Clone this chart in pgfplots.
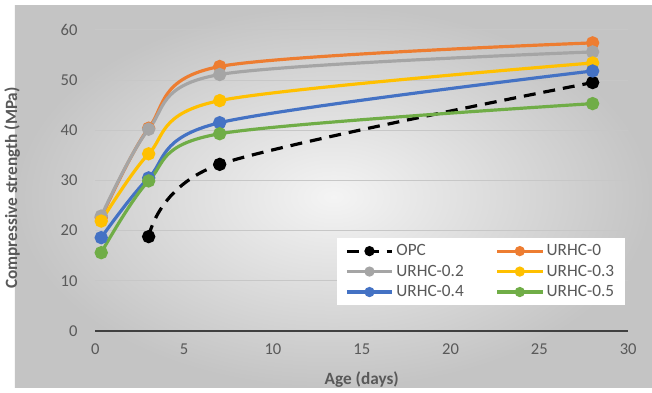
\documentclass[border=0pt]{standalone}
\usepackage{fontspec}
\setmainfont{Carlito}
\usepackage{pgfplots}
\pgfplotsset{compat=1.18}
\definecolor{cOPC}{HTML}{000000}
\definecolor{cA}{HTML}{ED7D31}
\definecolor{cB}{HTML}{A5A5A5}
\definecolor{cC}{HTML}{FFC000}
\definecolor{cD}{HTML}{4472C4}
\definecolor{cE}{HTML}{70AD47}
\definecolor{txt}{HTML}{595959}
\definecolor{bgin}{HTML}{F4F4F4}
\definecolor{bgout}{HTML}{C4C4C4}
\begin{document}
\begin{tikzpicture}
\fill[white] (-69pt,-42.75pt) rectangle (420pt,249.75pt);
\shade[inner color=bgin, outer color=bgout] (-60.75pt,-42.75pt) rectangle (420pt,245.25pt);
\begin{axis}[
  scale only axis,
  width=402pt, height=227.25pt,
  xmin=0, xmax=30, ymin=0, ymax=60,
  xtick={0,5,...,30}, ytick={0,10,...,60},
  axis line style={draw=none},
  axis x line*=bottom,
  major tick length=0pt,
  ymajorgrids,
  grid style={color=black!22, line width=0.6pt},
  tick label style={font=\fontsize{12.5}{14}\selectfont, text=txt},
  xticklabel style={yshift=-6pt},
  yticklabel style={xshift=-10pt},
  /pgf/number format/assume math mode=true,
  xlabel={Age (days)},
  ylabel={Compressive strength (MPa)},
  label style={font=\bfseries\fontsize{13}{15}\selectfont, text=txt},
  xlabel style={at={(axis description cs:0.5,-0.162)}, anchor=center},
  ylabel style={at={(axis description cs:-0.156,0.475)}, anchor=center},
  legend columns=2,
  legend cell align=left,
  legend style={at={(axis description cs:0.994,0.31)}, anchor=north east,
    fill=white, draw=none, font=\fontsize{13}{15}\selectfont, text=txt,
    inner xsep=6pt, inner ysep=3pt,
    /tikz/every even column/.append style={column sep=22pt},
    row sep=1.5pt},
  legend image code/.code={%
    \draw[mark repeat=2,mark phase=2,mark size=2.6pt] plot coordinates {(0cm,0cm) (0.6cm,0cm) (1.2cm,0cm)};},
  every axis plot/.append style={line width=2.4pt, mark=*, mark size=3.8pt, smooth, tension=0.5},
  clip=false,
]
\draw[color=black!75, line width=1.5pt] (axis cs:0,0) -- (axis cs:30,0);
\addplot[cOPC, dash pattern=on 9pt off 6pt, mark options={solid, fill=cOPC}] coordinates {(3,18.8) (7,33.2) (28,49.5)};
\addlegendentry{OPC}
\addplot[cA, mark options={fill=cA}] coordinates {(0.33,22.6) (3,40.4) (7,52.7) (28,57.4)};
\addlegendentry{URHC-0}
\addplot[cB, mark options={fill=cB}] coordinates {(0.33,22.9) (3,40.2) (7,51.1) (28,55.6)};
\addlegendentry{URHC-0.2}
\addplot[cC, mark options={fill=cC}] coordinates {(0.33,21.9) (3,35.3) (7,45.9) (28,53.4)};
\addlegendentry{URHC-0.3}
\addplot[cD, mark options={fill=cD}] coordinates {(0.33,18.6) (3,30.5) (7,41.5) (28,51.8)};
\addlegendentry{URHC-0.4}
\addplot[cE, mark options={fill=cE}] coordinates {(0.33,15.6) (3,29.9) (7,39.3) (28,45.3)};
\addlegendentry{URHC-0.5}
\end{axis}
\end{tikzpicture}
\end{document}
